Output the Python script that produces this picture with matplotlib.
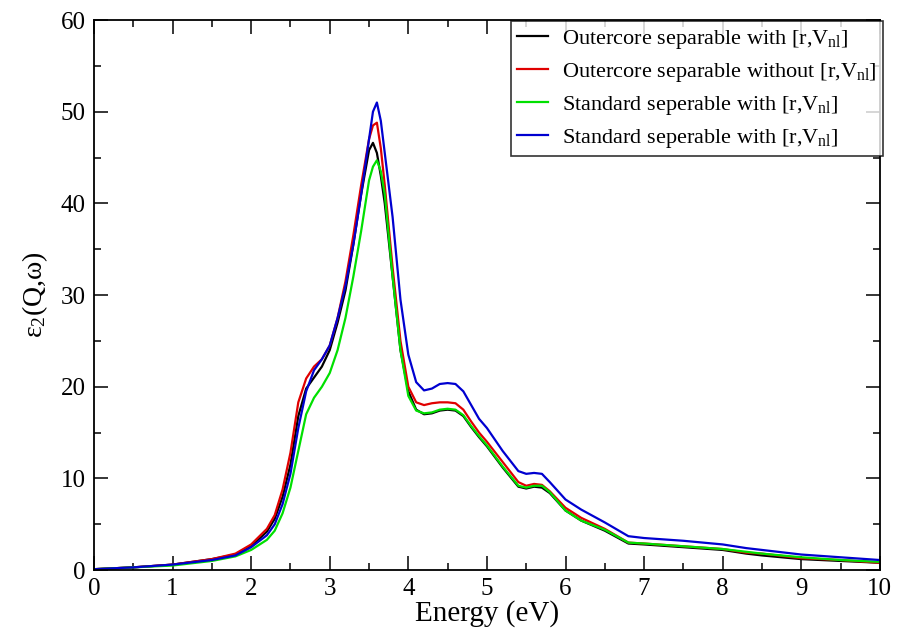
import matplotlib
matplotlib.use("Agg")
import matplotlib.pyplot as plt
from matplotlib.ticker import MultipleLocator

plt.rcParams['font.family'] = ['Liberation Serif', 'DejaVu Serif']
plt.rcParams['mathtext.fontset'] = 'custom'
plt.rcParams['mathtext.rm'] = 'Liberation Serif'
plt.rcParams['mathtext.it'] = 'Liberation Serif:italic'

energy = [0, 0.5, 1.0, 1.5, 1.8, 2.0, 2.2, 2.3, 2.4, 2.5, 2.6, 2.7, 2.8, 2.9, 3.0, 3.1, 3.2, 3.3,
          3.4, 3.5, 3.55, 3.6, 3.65, 3.7, 3.8, 3.9, 4.0, 4.1, 4.2, 4.3, 4.4, 4.5, 4.6, 4.7, 4.8,
          4.9, 5.0, 5.2, 5.4, 5.5, 5.6, 5.7, 5.8, 6.0, 6.2, 6.5, 6.8, 7.0, 7.5, 8.0, 8.3, 8.5,
          9.0, 9.5, 10.0]

outer_with = [0.1, 0.3, 0.6, 1.2, 1.7, 2.6, 4.2, 5.6, 8.0, 11.5, 16.8, 19.8, 21.0, 22.2, 24.0,
              27.0, 30.5, 35.5, 41.0, 45.8, 46.6, 45.5, 43.0, 40.0, 32.0, 24.0, 19.5, 17.5, 17.0,
              17.1, 17.4, 17.5, 17.4, 16.8, 15.6, 14.5, 13.5, 11.2, 9.1, 8.9, 9.1, 9.0, 8.4, 6.5,
              5.4, 4.3, 2.9, 2.8, 2.5, 2.2, 1.8, 1.6, 1.2, 1.0, 0.8]

outer_without = [0.1, 0.3, 0.6, 1.2, 1.8, 2.8, 4.5, 6.0, 8.8, 12.8, 18.3, 20.9, 22.2, 23.0, 24.5,
                 27.5, 31.5, 36.5, 42.0, 47.0, 48.5, 48.8, 46.0, 42.0, 33.0, 25.0, 20.0, 18.3,
                 18.0, 18.2, 18.3, 18.3, 18.2, 17.5, 16.2, 15.0, 14.0, 11.8, 9.6, 9.2, 9.4, 9.3,
                 8.6, 6.8, 5.7, 4.5, 3.0, 2.9, 2.6, 2.3, 1.9, 1.8, 1.3, 1.1, 0.8]

std_with = [0.1, 0.3, 0.5, 1.0, 1.5, 2.2, 3.3, 4.3, 6.2, 9.0, 13.0, 17.0, 18.8, 20.0, 21.5, 24.0,
            27.5, 32.0, 37.0, 42.5, 44.0, 44.7, 43.5, 41.0, 32.0, 24.0, 19.0, 17.4, 17.1, 17.2,
            17.5, 17.6, 17.5, 16.9, 15.7, 14.6, 13.6, 11.3, 9.2, 9.0, 9.2, 9.2, 8.5, 6.5, 5.4,
            4.4, 3.0, 2.9, 2.6, 2.3, 2.0, 1.8, 1.4, 1.1, 0.9]

std_with_b = [0.1, 0.3, 0.6, 1.1, 1.6, 2.5, 3.8, 5.0, 7.2, 10.5, 15.5, 19.5, 21.8, 23.0, 24.5,
              27.5, 31.0, 35.5, 41.0, 47.0, 50.0, 51.0, 49.0, 45.5, 38.5, 29.5, 23.5, 20.5, 19.6,
              19.8, 20.3, 20.4, 20.3, 19.5, 18.0, 16.5, 15.5, 13.0, 10.8, 10.5, 10.6, 10.5, 9.6,
              7.7, 6.6, 5.2, 3.7, 3.5, 3.2, 2.8, 2.4, 2.2, 1.7, 1.4, 1.1]

labels = [r"Outercore separable with [r,V$_{\mathrm{nl}}$]",
          r"Outercore separable without [r,V$_{\mathrm{nl}}$]",
          r"Standard seperable with [r,V$_{\mathrm{nl}}$]",
          r"Standard seperable with [r,V$_{\mathrm{nl}}$]"]
colors = ["#000000", "#e00000", "#00e000", "#0000d0"]
series = [outer_with, outer_without, std_with, std_with_b]

fig = plt.figure(figsize=(9.08, 6.37), dpi=100)
ax = fig.add_axes([0.1035, 0.105, 0.8655, 0.8636])

for ys, c, lab in zip(series, colors, labels):
    ax.plot(energy, ys, color=c, lw=1.6, label=lab)

ax.set_xlim(0, 10)
ax.set_ylim(0, 60)
ax.xaxis.set_major_locator(MultipleLocator(1))
ax.xaxis.set_minor_locator(MultipleLocator(0.5))
ax.yaxis.set_major_locator(MultipleLocator(10))
ax.yaxis.set_minor_locator(MultipleLocator(5))
ax.tick_params(which='both', direction='in', top=True, right=True, labelsize=18, width=1.1)
ax.tick_params(which='major', length=10, pad=6)
ax.tick_params(which='minor', length=5)
for s in ax.spines.values():
    s.set_linewidth(1.3)

ax.set_xlabel("Energy (eV)", fontsize=21, labelpad=0)
ax.set_ylabel(r"ε$_2$(Q,ω)", fontsize=20, labelpad=8)

leg = ax.legend(loc='upper right', fontsize=16, frameon=True, fancybox=False,
                borderaxespad=0.0, handlelength=1.4, handletextpad=0.6,
                labelspacing=0.45, borderpad=0.3, bbox_to_anchor=(1.004, 0.998))
leg.get_frame().set_edgecolor('black')
leg.get_frame().set_linewidth(1.2)

fig.savefig("out.png", dpi=100)
